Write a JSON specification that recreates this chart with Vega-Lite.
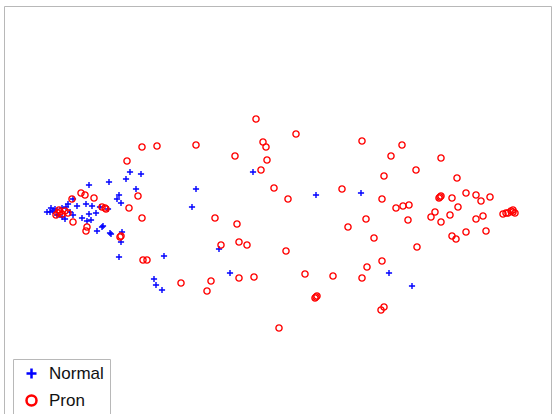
{
  "$schema": "https://vega.github.io/schema/vega-lite/v6.json",
  "width": 547,
  "height": 412,
  "autosize": {"type": "none"},
  "padding": {"left": 4, "top": 6, "right": 3, "bottom": 0},
  "background": "white",
  "config": {
    "view": {"stroke": "#b8b8b8", "strokeWidth": 1},
    "font": "Liberation Sans"
  },
  "data": {
    "values": [
      {"x": 253, "y": 172, "c": "Normal"}, {"x": 130, "y": 172, "c": "Normal"}, {"x": 141, "y": 174, "c": "Normal"},
      {"x": 109, "y": 182, "c": "Normal"}, {"x": 126, "y": 179, "c": "Normal"}, {"x": 136, "y": 189, "c": "Normal"},
      {"x": 196, "y": 189, "c": "Normal"}, {"x": 316, "y": 195, "c": "Normal"}, {"x": 119, "y": 195, "c": "Normal"},
      {"x": 117, "y": 199, "c": "Normal"}, {"x": 121, "y": 203, "c": "Normal"}, {"x": 108, "y": 209, "c": "Normal"},
      {"x": 192, "y": 207, "c": "Normal"}, {"x": 103, "y": 226, "c": "Normal"}, {"x": 111, "y": 234, "c": "Normal"},
      {"x": 122, "y": 232, "c": "Normal"}, {"x": 121, "y": 242, "c": "Normal"}, {"x": 219, "y": 249, "c": "Normal"},
      {"x": 119, "y": 257, "c": "Normal"}, {"x": 164, "y": 256, "c": "Normal"}, {"x": 230, "y": 273, "c": "Normal"},
      {"x": 154, "y": 279, "c": "Normal"}, {"x": 156, "y": 285, "c": "Normal"}, {"x": 162, "y": 290, "c": "Normal"},
      {"x": 361, "y": 193, "c": "Normal"}, {"x": 389, "y": 273, "c": "Normal"}, {"x": 412, "y": 286, "c": "Normal"},
      {"x": 89, "y": 185, "c": "Normal"}, {"x": 86, "y": 204, "c": "Normal"}, {"x": 92, "y": 206, "c": "Normal"},
      {"x": 100, "y": 207, "c": "Normal"}, {"x": 77, "y": 206, "c": "Normal"}, {"x": 73, "y": 215, "c": "Normal"},
      {"x": 89, "y": 214, "c": "Normal"}, {"x": 96, "y": 213, "c": "Normal"}, {"x": 82, "y": 218, "c": "Normal"},
      {"x": 87, "y": 221, "c": "Normal"}, {"x": 91, "y": 220, "c": "Normal"}, {"x": 97, "y": 231, "c": "Normal"},
      {"x": 102, "y": 227, "c": "Normal"}, {"x": 110, "y": 233, "c": "Normal"}, {"x": 65, "y": 219, "c": "Normal"},
      {"x": 73, "y": 199, "c": "Normal"}, {"x": 50, "y": 212, "c": "Normal"}, {"x": 47, "y": 212, "c": "Normal"},
      {"x": 53, "y": 211, "c": "Normal"}, {"x": 55, "y": 209, "c": "Normal"}, {"x": 62, "y": 208, "c": "Normal"},
      {"x": 66, "y": 207, "c": "Normal"}, {"x": 70, "y": 212, "c": "Normal"}, {"x": 62, "y": 217, "c": "Normal"},
      {"x": 57, "y": 215, "c": "Normal"}, {"x": 68, "y": 204, "c": "Normal"}, {"x": 51, "y": 208, "c": "Normal"},
      {"x": 256, "y": 119, "c": "Pron"}, {"x": 296, "y": 134, "c": "Pron"}, {"x": 142, "y": 147, "c": "Pron"},
      {"x": 157, "y": 146, "c": "Pron"}, {"x": 196, "y": 145, "c": "Pron"}, {"x": 263, "y": 142, "c": "Pron"},
      {"x": 266, "y": 147, "c": "Pron"}, {"x": 127, "y": 161, "c": "Pron"}, {"x": 235, "y": 156, "c": "Pron"},
      {"x": 267, "y": 160, "c": "Pron"}, {"x": 261, "y": 170, "c": "Pron"}, {"x": 138, "y": 196, "c": "Pron"},
      {"x": 274, "y": 188, "c": "Pron"}, {"x": 288, "y": 199, "c": "Pron"}, {"x": 105, "y": 208, "c": "Pron"},
      {"x": 102, "y": 207, "c": "Pron"}, {"x": 129, "y": 208, "c": "Pron"}, {"x": 142, "y": 218, "c": "Pron"},
      {"x": 215, "y": 218, "c": "Pron"}, {"x": 237, "y": 224, "c": "Pron"}, {"x": 121, "y": 236, "c": "Pron"},
      {"x": 221, "y": 245, "c": "Pron"}, {"x": 239, "y": 242, "c": "Pron"}, {"x": 247, "y": 245, "c": "Pron"},
      {"x": 286, "y": 251, "c": "Pron"}, {"x": 143, "y": 260, "c": "Pron"}, {"x": 147, "y": 260, "c": "Pron"},
      {"x": 305, "y": 274, "c": "Pron"}, {"x": 239, "y": 278, "c": "Pron"}, {"x": 254, "y": 277, "c": "Pron"},
      {"x": 211, "y": 281, "c": "Pron"}, {"x": 181, "y": 283, "c": "Pron"}, {"x": 207, "y": 291, "c": "Pron"},
      {"x": 316, "y": 297, "c": "Pron"}, {"x": 317, "y": 296, "c": "Pron"}, {"x": 315, "y": 298, "c": "Pron"},
      {"x": 362, "y": 141, "c": "Pron"}, {"x": 402, "y": 145, "c": "Pron"}, {"x": 391, "y": 156, "c": "Pron"},
      {"x": 441, "y": 158, "c": "Pron"}, {"x": 416, "y": 170, "c": "Pron"}, {"x": 384, "y": 176, "c": "Pron"},
      {"x": 457, "y": 178, "c": "Pron"}, {"x": 342, "y": 189, "c": "Pron"}, {"x": 382, "y": 199, "c": "Pron"},
      {"x": 440, "y": 197, "c": "Pron"}, {"x": 441, "y": 196, "c": "Pron"}, {"x": 439, "y": 198, "c": "Pron"},
      {"x": 452, "y": 198, "c": "Pron"}, {"x": 466, "y": 193, "c": "Pron"}, {"x": 476, "y": 195, "c": "Pron"},
      {"x": 481, "y": 201, "c": "Pron"}, {"x": 490, "y": 197, "c": "Pron"}, {"x": 396, "y": 208, "c": "Pron"},
      {"x": 403, "y": 206, "c": "Pron"}, {"x": 409, "y": 205, "c": "Pron"}, {"x": 458, "y": 207, "c": "Pron"},
      {"x": 435, "y": 212, "c": "Pron"}, {"x": 431, "y": 217, "c": "Pron"}, {"x": 450, "y": 215, "c": "Pron"},
      {"x": 476, "y": 219, "c": "Pron"}, {"x": 483, "y": 216, "c": "Pron"}, {"x": 366, "y": 219, "c": "Pron"},
      {"x": 408, "y": 220, "c": "Pron"}, {"x": 441, "y": 222, "c": "Pron"}, {"x": 513, "y": 212, "c": "Pron"},
      {"x": 511, "y": 211, "c": "Pron"}, {"x": 515, "y": 213, "c": "Pron"}, {"x": 513, "y": 210, "c": "Pron"},
      {"x": 503, "y": 214, "c": "Pron"}, {"x": 506, "y": 213, "c": "Pron"}, {"x": 508, "y": 213, "c": "Pron"},
      {"x": 348, "y": 227, "c": "Pron"}, {"x": 374, "y": 238, "c": "Pron"}, {"x": 452, "y": 236, "c": "Pron"},
      {"x": 456, "y": 239, "c": "Pron"}, {"x": 466, "y": 232, "c": "Pron"}, {"x": 486, "y": 231, "c": "Pron"},
      {"x": 417, "y": 247, "c": "Pron"}, {"x": 382, "y": 261, "c": "Pron"}, {"x": 367, "y": 267, "c": "Pron"},
      {"x": 333, "y": 276, "c": "Pron"}, {"x": 362, "y": 278, "c": "Pron"}, {"x": 381, "y": 310, "c": "Pron"},
      {"x": 384, "y": 307, "c": "Pron"}, {"x": 279, "y": 328, "c": "Pron"}, {"x": 81, "y": 193, "c": "Pron"},
      {"x": 85, "y": 195, "c": "Pron"}, {"x": 94, "y": 198, "c": "Pron"}, {"x": 72, "y": 199, "c": "Pron"},
      {"x": 106, "y": 209, "c": "Pron"}, {"x": 73, "y": 222, "c": "Pron"}, {"x": 87, "y": 227, "c": "Pron"},
      {"x": 86, "y": 231, "c": "Pron"}, {"x": 120, "y": 237, "c": "Pron"}, {"x": 58, "y": 213, "c": "Pron"},
      {"x": 60, "y": 212, "c": "Pron"}, {"x": 62, "y": 214, "c": "Pron"}, {"x": 65, "y": 211, "c": "Pron"},
      {"x": 56, "y": 215, "c": "Pron"}, {"x": 68, "y": 213, "c": "Pron"}, {"x": 59, "y": 210, "c": "Pron"}
    ]
  },
  "mark": {"type": "point", "filled": false, "strokeWidth": 1.4, "opacity": 1},
  "encoding": {
    "x": {"field": "x", "type": "quantitative", "scale": {"domain": [4, 551], "nice": false, "zero": false}, "axis": null},
    "y": {"field": "y", "type": "quantitative", "scale": {"domain": [6, 418], "nice": false, "zero": false, "reverse": true}, "axis": null},
    "color": {
      "field": "c", "type": "nominal",
      "scale": {"domain": ["Normal", "Pron"], "range": ["#0000ff", "#ff0000"]},
      "legend": {
        "title": null,
        "orient": "none",
        "legendX": 9,
        "legendY": 353,
        "labelFontSize": 17,
        "labelFont": "Liberation Sans",
        "labelColor": "#111111",
        "symbolSize": 100,
        "symbolStrokeWidth": 2.5,
        "symbolOffset": 4,
        "rowPadding": 6,
        "padding": 6,
        "strokeColor": "#b8b8b8",
        "fillColor": "white",
        "labelOffset": 9
      }
    },
    "shape": {
      "field": "c", "type": "nominal",
      "scale": {"domain": ["Normal", "Pron"], "range": ["M-1,0L1,0M0,-1L0,1", "circle"]},
      "legend": null
    },
    "size": {"value": 38}
  }
}
